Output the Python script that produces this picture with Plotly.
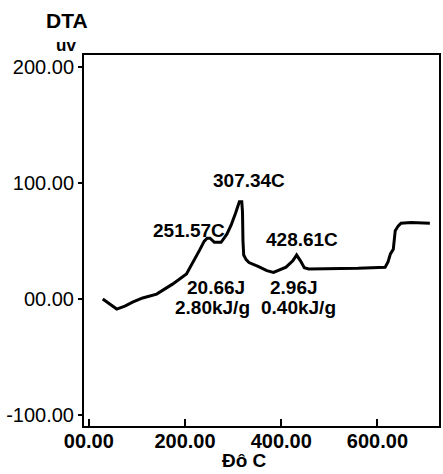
import plotly.graph_objects as go

temp_c = [29, 45, 58, 75, 91, 112, 141, 174, 203, 230, 240, 246, 252, 261, 275, 287, 296,
          305, 310, 313, 318, 319.5, 320.5, 322, 327, 333, 353, 370, 384, 397, 410, 424,
          432, 440, 448, 457, 492, 560, 616, 622, 627, 633, 637, 643, 649, 660, 670, 709]
dta_uv = [0, -5, -8.6, -6, -2.6, 1, 4.3, 12.9, 21.6, 42, 50, 52.5, 52.5, 49, 49, 56, 64,
          74, 80, 84, 84, 75, 50, 38, 34, 31.5, 28, 24.5, 23, 25, 27.6, 33,
          38, 33, 27, 26, 26, 26.5, 27.5, 32, 39, 43, 59, 63, 65.5, 66, 66, 65.5]

x_tickvals = [0, 200, 400, 600]
x_ticktext = ["00.00", "200.00", "400.00", "600.00"]
y_tickvals = [200, 100, 0, -100]
y_ticktext = ["200.00", "100.00", "00.00", "-100.00"]

peak_labels = ["307.34C", "251.57C", "428.61C", "20.66J", "2.80kJ/g", "2.96J", "0.40kJ/g"]
peak_x = [333, 209, 443, 264, 258, 426, 436]
peak_y = [102.6, 59.5, 51.7, 10.3, -6.9, 10.3, -6.9]

FONT = "Liberation Sans, Arial, sans-serif"

fig = go.Figure()
fig.add_trace(go.Scatter(x=temp_c, y=dta_uv, mode="lines",
                         line=dict(color="black", width=3), hoverinfo="skip"))

for t, x, y in zip(peak_labels, peak_x, peak_y):
    fig.add_annotation(x=x, y=y, text="<b>%s</b>" % t, showarrow=False,
                       font=dict(family=FONT, size=19, color="black"),
                       xanchor="center", yanchor="middle")

fig.add_annotation(xref="paper", yref="paper", x=-0.048, y=1.092, text="<b>DTA</b>",
                   showarrow=False, font=dict(family=FONT, size=21, color="black"),
                   xanchor="center", yanchor="middle")
fig.add_annotation(xref="paper", yref="paper", x=-0.05, y=1.026, text="<b>uv</b>",
                   showarrow=False, font=dict(family=FONT, size=17, color="black"),
                   xanchor="center", yanchor="middle")
fig.add_annotation(xref="paper", yref="paper", x=0.451, y=-0.128, text="<b>Đô C</b>",
                   showarrow=False, font=dict(family=FONT, size=19, color="black"),
                   xanchor="center", yanchor="bottom")

fig.update_layout(
    width=443, height=474,
    margin=dict(l=84, r=2, t=55, b=48),
    paper_bgcolor="white", plot_bgcolor="white",
    showlegend=False,
    xaxis=dict(range=[-10, 728], tickvals=x_tickvals,
               ticktext=["<b>%s</b>" % s for s in x_ticktext],
               ticks="inside", ticklen=7, tickwidth=2, tickcolor="black",
               ticklabelstandoff=-4,
               showline=True, linecolor="black", linewidth=2, mirror=True,
               showgrid=False, zeroline=False,
               tickfont=dict(family=FONT, size=20, color="black")),
    yaxis=dict(range=[-109.5, 210.6], tickvals=y_tickvals, ticktext=y_ticktext,
               ticks="outside", ticklen=4, tickwidth=2, tickcolor="black",
               showline=True, linecolor="black", linewidth=2, mirror=True,
               showgrid=False, zeroline=False,
               tickfont=dict(family=FONT, size=20, color="black")),
)

fig.write_html("out.html")
